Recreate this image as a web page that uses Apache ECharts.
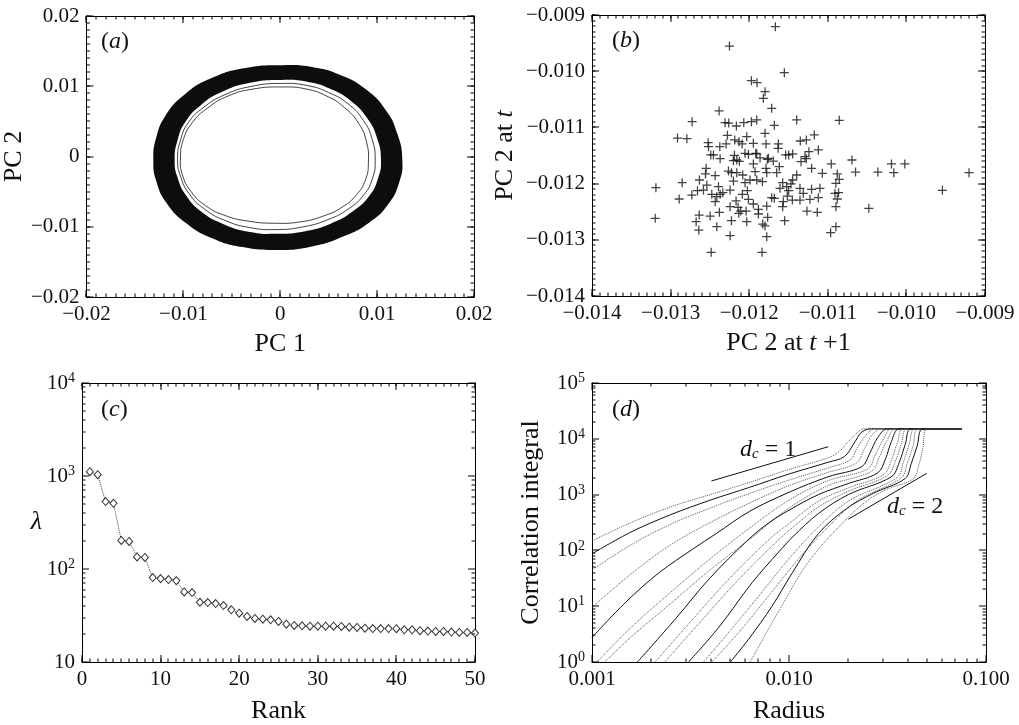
<!DOCTYPE html>
<html><head><meta charset="utf-8">
<script src="https://cdn.jsdelivr.net/npm/echarts@6/dist/echarts.min.js"></script>
<style>html,body{margin:0;padding:0;background:#fff}#chart{width:1019px;height:725px}</style>
</head><body><div id="chart"></div>
<script>
// ---------- Panel (a): attractor band (PC1, PC2) ----------
const ringOuter = [[0.0003,0.0130],[0.0034,0.0127],[0.0062,0.0116],[0.0088,0.0096],[0.0109,0.0066],[0.0121,0.0032],[0.0126,-0.0005],[0.0123,-0.0036],[0.0112,-0.0067],[0.0092,-0.0094],[0.0065,-0.0114],[0.0033,-0.0128],[-0.0003,-0.0133],[-0.0039,-0.0129],[-0.0071,-0.0116],[-0.0097,-0.0095],[-0.0117,-0.0067],[-0.0128,-0.0035],[-0.0131,-0.0005],[-0.0128,0.0027],[-0.0118,0.0059],[-0.0099,0.0088],[-0.0072,0.0111],[-0.0036,0.0126]];
const ringInner = [[0.0002,0.0109],[0.0029,0.0106],[0.0052,0.0096],[0.0073,0.0079],[0.0090,0.0054],[0.0100,0.0026],[0.0104,-0.0005],[0.0101,-0.0031],[0.0092,-0.0056],[0.0075,-0.0078],[0.0053,-0.0095],[0.0027,-0.0106],[-0.0003,-0.0110],[-0.0033,-0.0107],[-0.0059,-0.0096],[-0.0081,-0.0079],[-0.0097,-0.0056],[-0.0106,-0.0030],[-0.0109,-0.0005],[-0.0106,0.0023],[-0.0098,0.0049],[-0.0082,0.0073],[-0.0060,0.0092],[-0.0031,0.0105]];
const loopMid = [[0.0002,0.0104],[0.0028,0.0101],[0.0050,0.0091],[0.0070,0.0075],[0.0086,0.0051],[0.0095,0.0024],[0.0098,-0.0006],[0.0095,-0.0032],[0.0086,-0.0055],[0.0070,-0.0075],[0.0049,-0.0090],[0.0024,-0.0100],[-0.0004,-0.0104],[-0.0032,-0.0101],[-0.0057,-0.0091],[-0.0078,-0.0075],[-0.0094,-0.0053],[-0.0103,-0.0028],[-0.0106,-0.0004],[-0.0103,0.0023],[-0.0095,0.0048],[-0.0079,0.0070],[-0.0057,0.0088],[-0.0029,0.0100]];
const loopInner = [[0.0002,0.0099],[0.0027,0.0096],[0.0048,0.0086],[0.0066,0.0070],[0.0081,0.0047],[0.0089,0.0021],[0.0091,-0.0008],[0.0088,-0.0033],[0.0079,-0.0054],[0.0064,-0.0072],[0.0044,-0.0085],[0.0021,-0.0093],[-0.0006,-0.0095],[-0.0033,-0.0092],[-0.0057,-0.0084],[-0.0077,-0.0070],[-0.0092,-0.0050],[-0.0101,-0.0026],[-0.0103,-0.0002],[-0.0100,0.0024],[-0.0091,0.0048],[-0.0075,0.0069],[-0.0054,0.0086],[-0.0028,0.0096]];

// ---------- Panel (b): return map ----------
const pc2Next = [-0.011667,-0.012251,-0.011553,-0.011972,-0.011900,-0.011798,-0.011820,-0.011714,-0.012383,-0.012726,-0.012307,-0.012260,-0.012163,-0.012069,-0.011972,-0.011904,-0.011680,-0.011396,-0.010854,-0.012912,-0.012793,-0.012522,-0.012518,-0.012374,-0.012277,-0.012294,-0.012184,-0.012129,-0.012031,-0.012091,-0.011947,-0.011786,-0.011799,-0.011629,-0.011633,-0.011273,-0.011350,-0.011172,-0.011121,-0.012489,-0.012455,-0.012370,-0.012188,-0.012158,-0.012125,-0.012201,-0.012053,-0.012010,-0.011947,-0.011917,-0.011862,-0.011769,-0.011693,-0.011536,-0.011498,-0.011447,-0.011341,-0.011290,-0.011273,-0.011240,-0.011206,-0.010956,-0.010693,-0.010647,-0.010363,-0.010190,-0.010160,-0.010020,-0.009203,-0.009542,-0.010478,-0.010964,-0.010897,-0.010897,-0.010880,-0.010909,-0.010863,-0.010897,-0.010880,-0.010854,-0.011121,-0.011100,-0.011206,-0.011134,-0.011265,-0.011227,-0.011354,-0.011396,-0.011447,-0.011468,-0.011523,-0.011574,-0.011608,-0.011498,-0.011451,-0.011515,-0.011566,-0.011574,-0.011549,-0.011617,-0.011650,-0.011786,-0.011777,-0.011832,-0.011904,-0.011925,-0.011989,-0.012053,-0.012082,-0.012158,-0.012226,-0.012201,-0.012243,-0.012336,-0.012370,-0.012391,-0.012433,-0.012548,-0.012556,-0.012633,-0.012582,-0.012658,-0.012730,-0.012853,-0.012891,-0.013187,-0.013196,-0.012675,-0.012637,-0.012641,-0.012497,-0.012412,-0.012433,-0.012379,-0.012243,-0.012226,-0.012243,-0.012167,-0.012142,-0.012133,-0.012031,-0.012108,-0.012040,-0.012010,-0.011947,-0.011883,-0.011883,-0.011828,-0.011799,-0.011777,-0.011837,-0.012484,-0.011777,-0.011765,-0.011714,-0.011680,-0.012087,-0.012023,-0.012539,-0.012412,-0.012476,-0.012264,-0.011904,-0.011756,-0.011070,-0.011312,-0.011354];
const pc2Now = [-0.009208,-0.009552,-0.010026,-0.010168,-0.010204,-0.010364,-0.010483,-0.010661,-0.010708,-0.010898,-0.010916,-0.010922,-0.010975,-0.010916,-0.010898,-0.010868,-0.010963,-0.010868,-0.010874,-0.011189,-0.011200,-0.011272,-0.011343,-0.011343,-0.011141,-0.011295,-0.011224,-0.011254,-0.011165,-0.011295,-0.011283,-0.011295,-0.011106,-0.011295,-0.011372,-0.011224,-0.011242,-0.011135,-0.011402,-0.011491,-0.011491,-0.011556,-0.011497,-0.011580,-0.011604,-0.011592,-0.011461,-0.011479,-0.011651,-0.011461,-0.011544,-0.011568,-0.011598,-0.011491,-0.011491,-0.011473,-0.011610,-0.011521,-0.011556,-0.011432,-0.011728,-0.011651,-0.011580,-0.011794,-0.011794,-0.011651,-0.011805,-0.011651,-0.011805,-0.012120,-0.012440,-0.012873,-0.012766,-0.012411,-0.012274,-0.012173,-0.012161,-0.011995,-0.011829,-0.011924,-0.012250,-0.012084,-0.012102,-0.012511,-0.012488,-0.012280,-0.012084,-0.011847,-0.011936,-0.012007,-0.012055,-0.011983,-0.012084,-0.012126,-0.012292,-0.012221,-0.012321,-0.012411,-0.012660,-0.011699,-0.011805,-0.011728,-0.011805,-0.011966,-0.011936,-0.011788,-0.011936,-0.011983,-0.011847,-0.011805,-0.011805,-0.011954,-0.012114,-0.012161,-0.012191,-0.012055,-0.011859,-0.011728,-0.011829,-0.011936,-0.012114,-0.012126,-0.012203,-0.011983,-0.012274,-0.012072,-0.012618,-0.012677,-0.012559,-0.012826,-0.012577,-0.012766,-0.012321,-0.012511,-0.012411,-0.012660,-0.012926,-0.012309,-0.012422,-0.012529,-0.012677,-0.012488,-0.012488,-0.012280,-0.012363,-0.012541,-0.012458,-0.012719,-0.012754,-0.012944,-0.013223,-0.013223,-0.012399,-0.012600,-0.012250,-0.012262,-0.012191,-0.012126,-0.012025,-0.012233,-0.012191,-0.011776,-0.011473,-0.011550,-0.011817,-0.012173,-0.012292];

// ---------- Panel (c): eigenvalue spectrum ----------
const ranks = [1,2,3,4,5,6,7,8,9,10,11,12,13,14,15,16,17,18,19,20,21,22,23,24,25,26,27,28,29,30,31,32,33,34,35,36,37,38,39,40,41,42,43,44,45,46,47,48,49,50];
const lambdas = [1112,1033,531,509,203,198,135,133,80.8,78.8,76.9,75,56.7,55.8,43.9,43.6,42.5,40.5,36.4,33.5,30.9,29.4,28.9,28.4,27.3,25.5,24.7,24.5,24.3,24.3,24.3,24.3,24.1,23.7,23.5,23.1,22.9,22.9,22.9,22.8,22.2,22.2,21.7,21.5,21.3,21.3,21.0,20.8,20.8,20.5];

// ---------- Panel (d): correlation integrals [radius, C] ----------
const curve01 = [[0.001,148],[0.00158,316],[0.00251,603],[0.00398,1000],[0.00631,1660],[0.01,2820],[0.0158,4570],[0.0178,5750],[0.0204,9550],[0.0224,13200],[0.024,15100],[0.075,15100]];
const curve02 = [[0.001,87],[0.00158,214],[0.00251,437],[0.00398,794],[0.00631,1350],[0.01,2340],[0.0158,3800],[0.0191,4790],[0.0214,8320],[0.0234,13200],[0.0263,15100],[0.075,15100]];
const curve03 = [[0.001,44.7],[0.00158,126],[0.00251,295],[0.00398,575],[0.00631,1050],[0.01,1820],[0.0158,3020],[0.0204,4170],[0.0224,7240],[0.0251,12600],[0.0275,15100],[0.075,15100]];
const curve04 = [[0.001,9.55],[0.00158,38],[0.00251,126],[0.00398,316],[0.00631,708],[0.01,1450],[0.0158,2510],[0.0219,3630],[0.024,6310],[0.0263,11500],[0.0295,15100],[0.075,15100]];
const curve05 = [[0.001,2.75],[0.00148,11.7],[0.00219,39.8],[0.00324,105],[0.00427,200],[0.00631,501],[0.01,1100],[0.0158,2090],[0.0234,3160],[0.0257,5500],[0.0282,10500],[0.0316,15100],[0.075,15100]];
const curve06 = [[0.00106,1],[0.00158,4.17],[0.00251,17.8],[0.00398,70.8],[0.00631,251],[0.01,794],[0.0158,1780],[0.0251,2880],[0.0275,5250],[0.0302,10000],[0.0331,15100],[0.075,15100]];
const curve07 = [[0.00116,1],[0.00158,2.82],[0.00251,11.2],[0.00398,44.7],[0.00631,158],[0.01,575],[0.0158,1450],[0.0263,2630],[0.0288,4790],[0.0316,9550],[0.0347,15100],[0.075,15100]];
const curve08 = [[0.0017,1],[0.00265,5.89],[0.00391,30.2],[0.00624,158],[0.00794,316],[0.01,525],[0.0141,1000],[0.02,1580],[0.0282,2450],[0.0309,4370],[0.0331,8910],[0.0363,15100],[0.075,15100]];
const curve09 = [[0.00209,1],[0.00316,5.25],[0.005,31.6],[0.00794,158],[0.01,302],[0.0141,759],[0.02,1320],[0.0302,2290],[0.0331,4170],[0.0355,8510],[0.038,15100],[0.075,15100]];
const curve10 = [[0.00234,1],[0.00355,5.25],[0.00562,31.6],[0.00891,158],[0.0112,316],[0.0141,603],[0.02,1150],[0.0316,2190],[0.0347,3980],[0.0372,8130],[0.0398,15100],[0.075,15100]];
const curve11 = [[0.00309,1],[0.0044,4.17],[0.00649,26.3],[0.00891,95.5],[0.0105,178],[0.0141,457],[0.02,1000],[0.0331,2090],[0.0363,3800],[0.0389,7940],[0.0417,15100],[0.075,15100]];
const curve12 = [[0.00368,1],[0.005,3.55],[0.00708,15.8],[0.01,70.8],[0.0141,263],[0.02,759],[0.0355,2040],[0.038,3720],[0.0407,7760],[0.0437,15100],[0.075,15100]];
const curve13 = [[0.00406,1],[0.00562,3.55],[0.00794,15.8],[0.0112,70.8],[0.0158,263],[0.0224,794],[0.0372,2000],[0.0398,3630],[0.0427,7590],[0.0452,15100],[0.075,15100]];
const curve14 = [[0.00504,1],[0.00624,2.57],[0.0082,10],[0.0104,39.8],[0.0141,200],[0.0196,562],[0.0267,1050],[0.0389,1950],[0.0417,3550],[0.0447,7410],[0.0479,15100],[0.075,15100]];
const curve15 = [[0.00635,1],[0.009,8.91],[0.0126,63.1],[0.0188,316],[0.0251,794],[0.0316,1260],[0.0427,1910],[0.0457,3470],[0.0479,7240],[0.0501,15100],[0.075,15100]];
const curveDash = ['dotted','solid','dotted','dotted','solid','dotted','dotted','solid','dotted','dotted','solid','dotted','dotted','solid','dotted'];
const slopeOne = [[0.00404,1755],[0.0158,7200]];
const slopeTwo = [[0.02,363],[0.05,2400]];

// ---------- build ----------
const FONT = "'Liberation Serif','Times New Roman',serif";
const curves = [curve01,curve02,curve03,curve04,curve05,curve06,curve07,curve08,curve09,curve10,curve11,curve12,curve13,curve14,curve15];
const signed = d => v => Math.abs(v) < 1e-12 ? '0' : (v < 0 ? '\u2212' : '') + Math.abs(v).toFixed(d);
const pow10 = skipTen => v => { const e = Math.round(Math.log10(v)); return (skipTen && e === 1) ? '10' : '10{sup|' + e + '}'; };
const supRich = { sup: { fontSize: 14, fontFamily: FONT, color: '#111', verticalAlign: 'top', padding: [0, 0, 9, 0] } };
const italicRich = { i: { fontStyle: 'italic', fontFamily: FONT, fontSize: 26, color: '#111' } };

const grids = [
  { left: 82, top: 16, width: 392, height: 281 },
  { left: 592, top: 15, width: 393, height: 281 },
  { left: 82, top: 383, width: 393, height: 280 },
  { left: 592, top: 383, width: 394, height: 280 }
];
const lineSt = { color: '#000', width: 1 };

// main axis with labels and name, plus a frame axis on the opposite side
function axesFor(dim, g, opt) {
  const near = dim === 'x' ? 'bottom' : 'left', far = dim === 'x' ? 'top' : 'right';
  const base = Object.assign({ gridIndex: g, splitLine: { show: false }, minorTick: { show: false }, axisTick: { show: false } }, opt.scale);
  return [
    Object.assign({}, base, {
      position: near,
      axisLine: { show: true, onZero: false, lineStyle: lineSt },
      axisLabel: { show: true, fontFamily: FONT, fontSize: 21, color: '#111', margin: 7, formatter: opt.fmt, rich: supRich, showMinLabel: true, showMaxLabel: true },
      name: opt.name, nameLocation: 'middle', nameGap: opt.gap, nameRotate: opt.rot,
      nameTextStyle: { fontFamily: FONT, fontSize: 26, color: '#111', rich: italicRich }
    }),
    Object.assign({}, base, { position: far, axisLine: { show: true, onZero: false, lineStyle: lineSt }, axisLabel: { show: false }, name: '' })
  ];
}
const xAxes = [], yAxes = [];
function addGrid(g, xs, ys) { xAxes.push(...axesFor('x', g, xs)); yAxes.push(...axesFor('y', g, ys)); }
addGrid(0, { scale: { type: 'value', min: -0.02, max: 0.02, interval: 0.01 }, fmt: signed(2), name: 'PC 1', gap: 34 },
           { scale: { type: 'value', min: -0.02, max: 0.02, interval: 0.01 }, fmt: signed(2), name: 'PC 2', gap: 46, rot: 90 });
addGrid(1, { scale: { type: 'value', min: -0.014, max: -0.009, interval: 0.001 }, fmt: signed(3), name: 'PC 2 at {i|t} +1', gap: 34 },
           { scale: { type: 'value', min: -0.014, max: -0.009, interval: 0.001 }, fmt: signed(3), name: 'PC 2 at {i|t}', gap: 74, rot: 90 });
addGrid(2, { scale: { type: 'value', min: 0, max: 50, interval: 10 }, fmt: v => String(v), name: 'Rank', gap: 36 },
           { scale: { type: 'log', min: 10, max: 10000, logBase: 10 }, fmt: pow10(true), name: '{i|λ}', gap: 40, rot: 0 });
addGrid(3, { scale: { type: 'log', min: 0.001, max: 0.1, logBase: 10 }, fmt: v => v.toFixed(3), name: 'Radius', gap: 36 },
           { scale: { type: 'log', min: 1, max: 100000, logBase: 10 }, fmt: pow10(false), name: 'Correlation integral', gap: 48, rot: 90 });
const AX = [0, 2, 4, 6]; // main axis index per grid

// inward tick marks on all four sides, placed through each panel's own scales
const stepTicks = (lo, hi, n) => { const out = []; for (let i = 0; i <= n; i++) out.push(lo + (hi - lo) * i / n); return out; };
const logSubs = [2, 3, 4, 5, 6, 7, 8, 9];
const decadeTicks = (lo, hi) => { const out = []; for (let d = lo; d < hi * 0.999; d *= 10) logSubs.forEach(m => out.push(+(m * d).toPrecision(3))); return out; };
function tickSeries(g, xr, yr, center, xMaj, xMin, yMaj, yMin) {
  return {
    type: 'custom', coordinateSystem: 'cartesian2d', xAxisIndex: AX[g], yAxisIndex: AX[g], silent: true, clip: false, z: 6,
    data: [center],
    renderItem: (params, api) => {
      const kids = [];
      const bar = (x, y, w, h) => kids.push({ type: 'rect', shape: { x, y, width: w, height: h }, style: { fill: '#000' } });
      const xt = (v, L) => { const a = api.coord([v, yr[0]]), b = api.coord([v, yr[1]]); const x = Math.round(a[0]) - 0.5; bar(x, a[1] - L, 1, L); bar(x, b[1], 1, L); };
      const yt = (v, L) => { const a = api.coord([xr[0], v]), b = api.coord([xr[1], v]); const y = Math.round(a[1]) - 0.5; bar(a[0], y, L, 1); bar(b[0] - L, y, L, 1); };
      xMaj.forEach(v => xt(v, 7)); xMin.forEach(v => xt(v, 3.5));
      yMaj.forEach(v => yt(v, 7)); yMin.forEach(v => yt(v, 3.5));
      return { type: 'group', children: kids };
    }
  };
}

const series = [];
// (a) band and inner loops
series.push({
  type: 'custom', coordinateSystem: 'cartesian2d', xAxisIndex: AX[0], yAxisIndex: AX[0], silent: true, data: [[0, 0]],
  renderItem: (params, api) => ({
    type: 'group', children: [
      { type: 'polygon', shape: { points: ringOuter.map(p => api.coord(p)), smooth: 0.5 }, style: { fill: '#0d0d0d' } },
      { type: 'polygon', shape: { points: ringInner.map(p => api.coord(p)), smooth: 0.5 }, style: { fill: '#fff' } },
      { type: 'polygon', shape: { points: loopMid.map(p => api.coord(p)), smooth: 0.5 }, style: { fill: 'none', stroke: '#111', lineWidth: 0.8 } },
      { type: 'polygon', shape: { points: loopInner.map(p => api.coord(p)), smooth: 0.5 }, style: { fill: 'none', stroke: '#111', lineWidth: 0.8 } }
    ]
  })
});
series.push(tickSeries(0, [-0.02, 0.02], [-0.02, 0.02], [0, 0], stepTicks(-0.02, 0.02, 4), stepTicks(-0.02, 0.02, 40), stepTicks(-0.02, 0.02, 4), stepTicks(-0.02, 0.02, 40)));
// (b)
series.push({
  type: 'scatter', xAxisIndex: AX[1], yAxisIndex: AX[1], silent: true,
  data: pc2Next.map((x, i) => [x, pc2Now[i]]),
  symbol: 'path://M0,4.3h10v1.4h-10zM4.3,0h1.4v10h-1.4z', symbolSize: 9,
  itemStyle: { color: '#111' }
});
series.push(tickSeries(1, [-0.014, -0.009], [-0.014, -0.009], [-0.0115, -0.0115], stepTicks(-0.014, -0.009, 5), stepTicks(-0.014, -0.009, 50), stepTicks(-0.014, -0.009, 5), stepTicks(-0.014, -0.009, 50)));
// (c)
series.push({
  type: 'line', xAxisIndex: AX[2], yAxisIndex: AX[2], silent: true,
  data: ranks.map((r, i) => [r, lambdas[i]]),
  symbol: 'diamond', symbolSize: [7, 8],
  itemStyle: { color: '#fff', borderColor: '#333', borderWidth: 1 },
  lineStyle: { color: '#444', width: 1, type: 'dotted' }
});
series.push(tickSeries(2, [0, 50], [10, 10000], [25, 300], stepTicks(0, 50, 5), stepTicks(0, 50, 50), [10, 100, 1000, 10000], decadeTicks(10, 10000)));
// (d)
curves.forEach((c, i) => series.push({
  type: 'line', xAxisIndex: AX[3], yAxisIndex: AX[3], silent: true, data: c, symbol: 'none',
  smooth: 0.35, lineStyle: curveDash[i] === 'solid' ? { color: '#111', width: 1 } : { color: '#555', width: 1, type: 'dotted' }
}));
[slopeOne, slopeTwo].forEach(l => series.push({ type: 'line', xAxisIndex: AX[3], yAxisIndex: AX[3], silent: true, data: l, symbol: 'none', lineStyle: { color: '#111', width: 1 } }));
series.push(tickSeries(3, [0.001, 0.1], [1, 100000], [0.01, 300], [0.001, 0.01, 0.1], decadeTicks(0.001, 0.1), [1, 10, 100, 1000, 10000, 100000], decadeTicks(1, 100000)));

const labelStyle = (txt, x, y) => ({
  type: 'text', left: x, top: y, silent: true,
  style: { text: txt, fontFamily: FONT, fontSize: 24, fill: '#111',
    rich: { i: { fontStyle: 'italic', fontFamily: FONT, fontSize: 24, fill: '#111' },
            sub: { fontStyle: 'italic', fontFamily: FONT, fontSize: 15, fill: '#111', verticalAlign: 'bottom', padding: [8, 0, 0, 0] } } }
});

const option = {
  animation: false,
  backgroundColor: '#fff',
  grid: grids.map(g => Object.assign({ show: false }, g)),
  xAxis: xAxes, yAxis: yAxes, series,
  graphic: [
    labelStyle('({i|a})', 101, 30), labelStyle('({i|b})', 612, 29),
    labelStyle('({i|c})', 101, 398), labelStyle('({i|d})', 612, 398),
    labelStyle('{i|d}{sub|c} = 1', 740, 438), labelStyle('{i|d}{sub|c} = 2', 887, 495)
  ]
};
const chart = echarts.init(document.getElementById('chart'), null, { renderer: 'canvas' });
chart.setOption(option);
</script></body></html>
